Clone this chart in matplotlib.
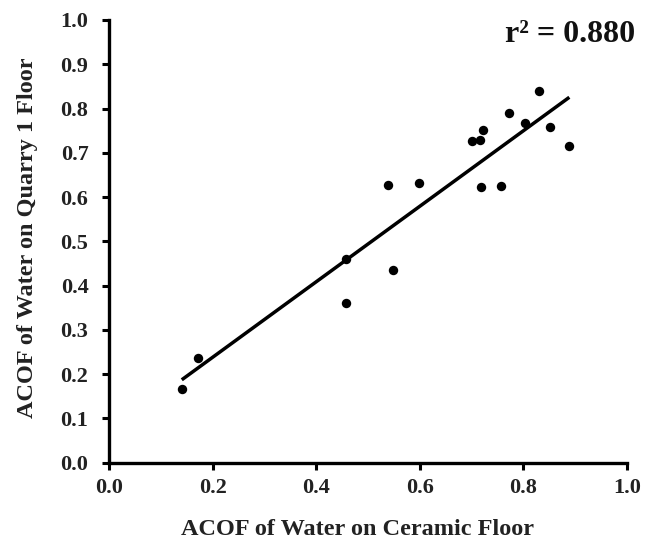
import numpy as np
import matplotlib.pyplot as plt

# ACOF readings
ceramic = [0.140, 0.172, 0.457, 0.457, 0.548, 0.538, 0.598, 0.701, 0.716,
           0.723, 0.718, 0.756, 0.772, 0.803, 0.830, 0.852, 0.889]
quarry = [0.166, 0.236, 0.460, 0.361, 0.435, 0.627, 0.631, 0.727, 0.729,
          0.752, 0.623, 0.625, 0.791, 0.768, 0.840, 0.758, 0.715]

# fitted regression line (as drawn in the reference)
fit_slope = 0.852
fit_intercept = 0.068
r_squared = 0.880

ticks = [0.0, 0.2, 0.4, 0.6, 0.8, 1.0]
yticks = [0.0, 0.1, 0.2, 0.3, 0.4, 0.5, 0.6, 0.7, 0.8, 0.9, 1.0]

plt.rcParams['font.family'] = ['Liberation Serif', 'DejaVu Serif']
plt.rcParams['font.weight'] = 'bold'

fig = plt.figure(figsize=(6.59, 5.49), dpi=100)
ax = fig.add_axes([0.1659, 0.1572, 0.9511 - 0.1659, 0.9636 - 0.1572])

ax.scatter(ceramic, quarry, s=46, color='black', zorder=3, linewidths=0)

x_line = np.array([min(ceramic), max(ceramic)])
ax.plot(x_line, fit_slope * x_line + fit_intercept, color='black', lw=2.5,
        solid_capstyle='butt')

ax.set_xlim(0, 1.0)
ax.set_ylim(0, 1.0)
ax.set_xticks(ticks)
ax.set_yticks(yticks)
ax.set_xticklabels([f"{t:.1f}" for t in ticks], fontsize=16, fontweight='bold', color='#222222')
ax.set_yticklabels([f"{t:.1f}" for t in yticks], fontsize=16, fontweight='bold', color='#222222')

for side in ['top', 'right']:
    ax.spines[side].set_visible(False)
for side in ['left', 'bottom']:
    ax.spines[side].set_linewidth(2.4)
ax.tick_params(direction='out', length=5, width=2.2, pad=6)
ax.tick_params(axis='y', pad=10)

ax.set_xlabel("ACOF of Water on Ceramic Floor", fontsize=17.5, fontweight='bold',
              color='#222222', va='center')
ax.xaxis.set_label_coords(0.48, -0.152)
ax.set_ylabel("ACOF of Water on Quarry 1 Floor", fontsize=17.5, fontweight='bold',
              color='#222222', va='center')
ax.yaxis.set_label_coords(-0.159, 0.508)

ax.text(1.016, 0.968, "r² = %.3f" % r_squared, transform=ax.transAxes,
        ha='right', va='center', fontsize=23, fontweight='bold', color='#111111')

fig.savefig("out.png", dpi=100)
